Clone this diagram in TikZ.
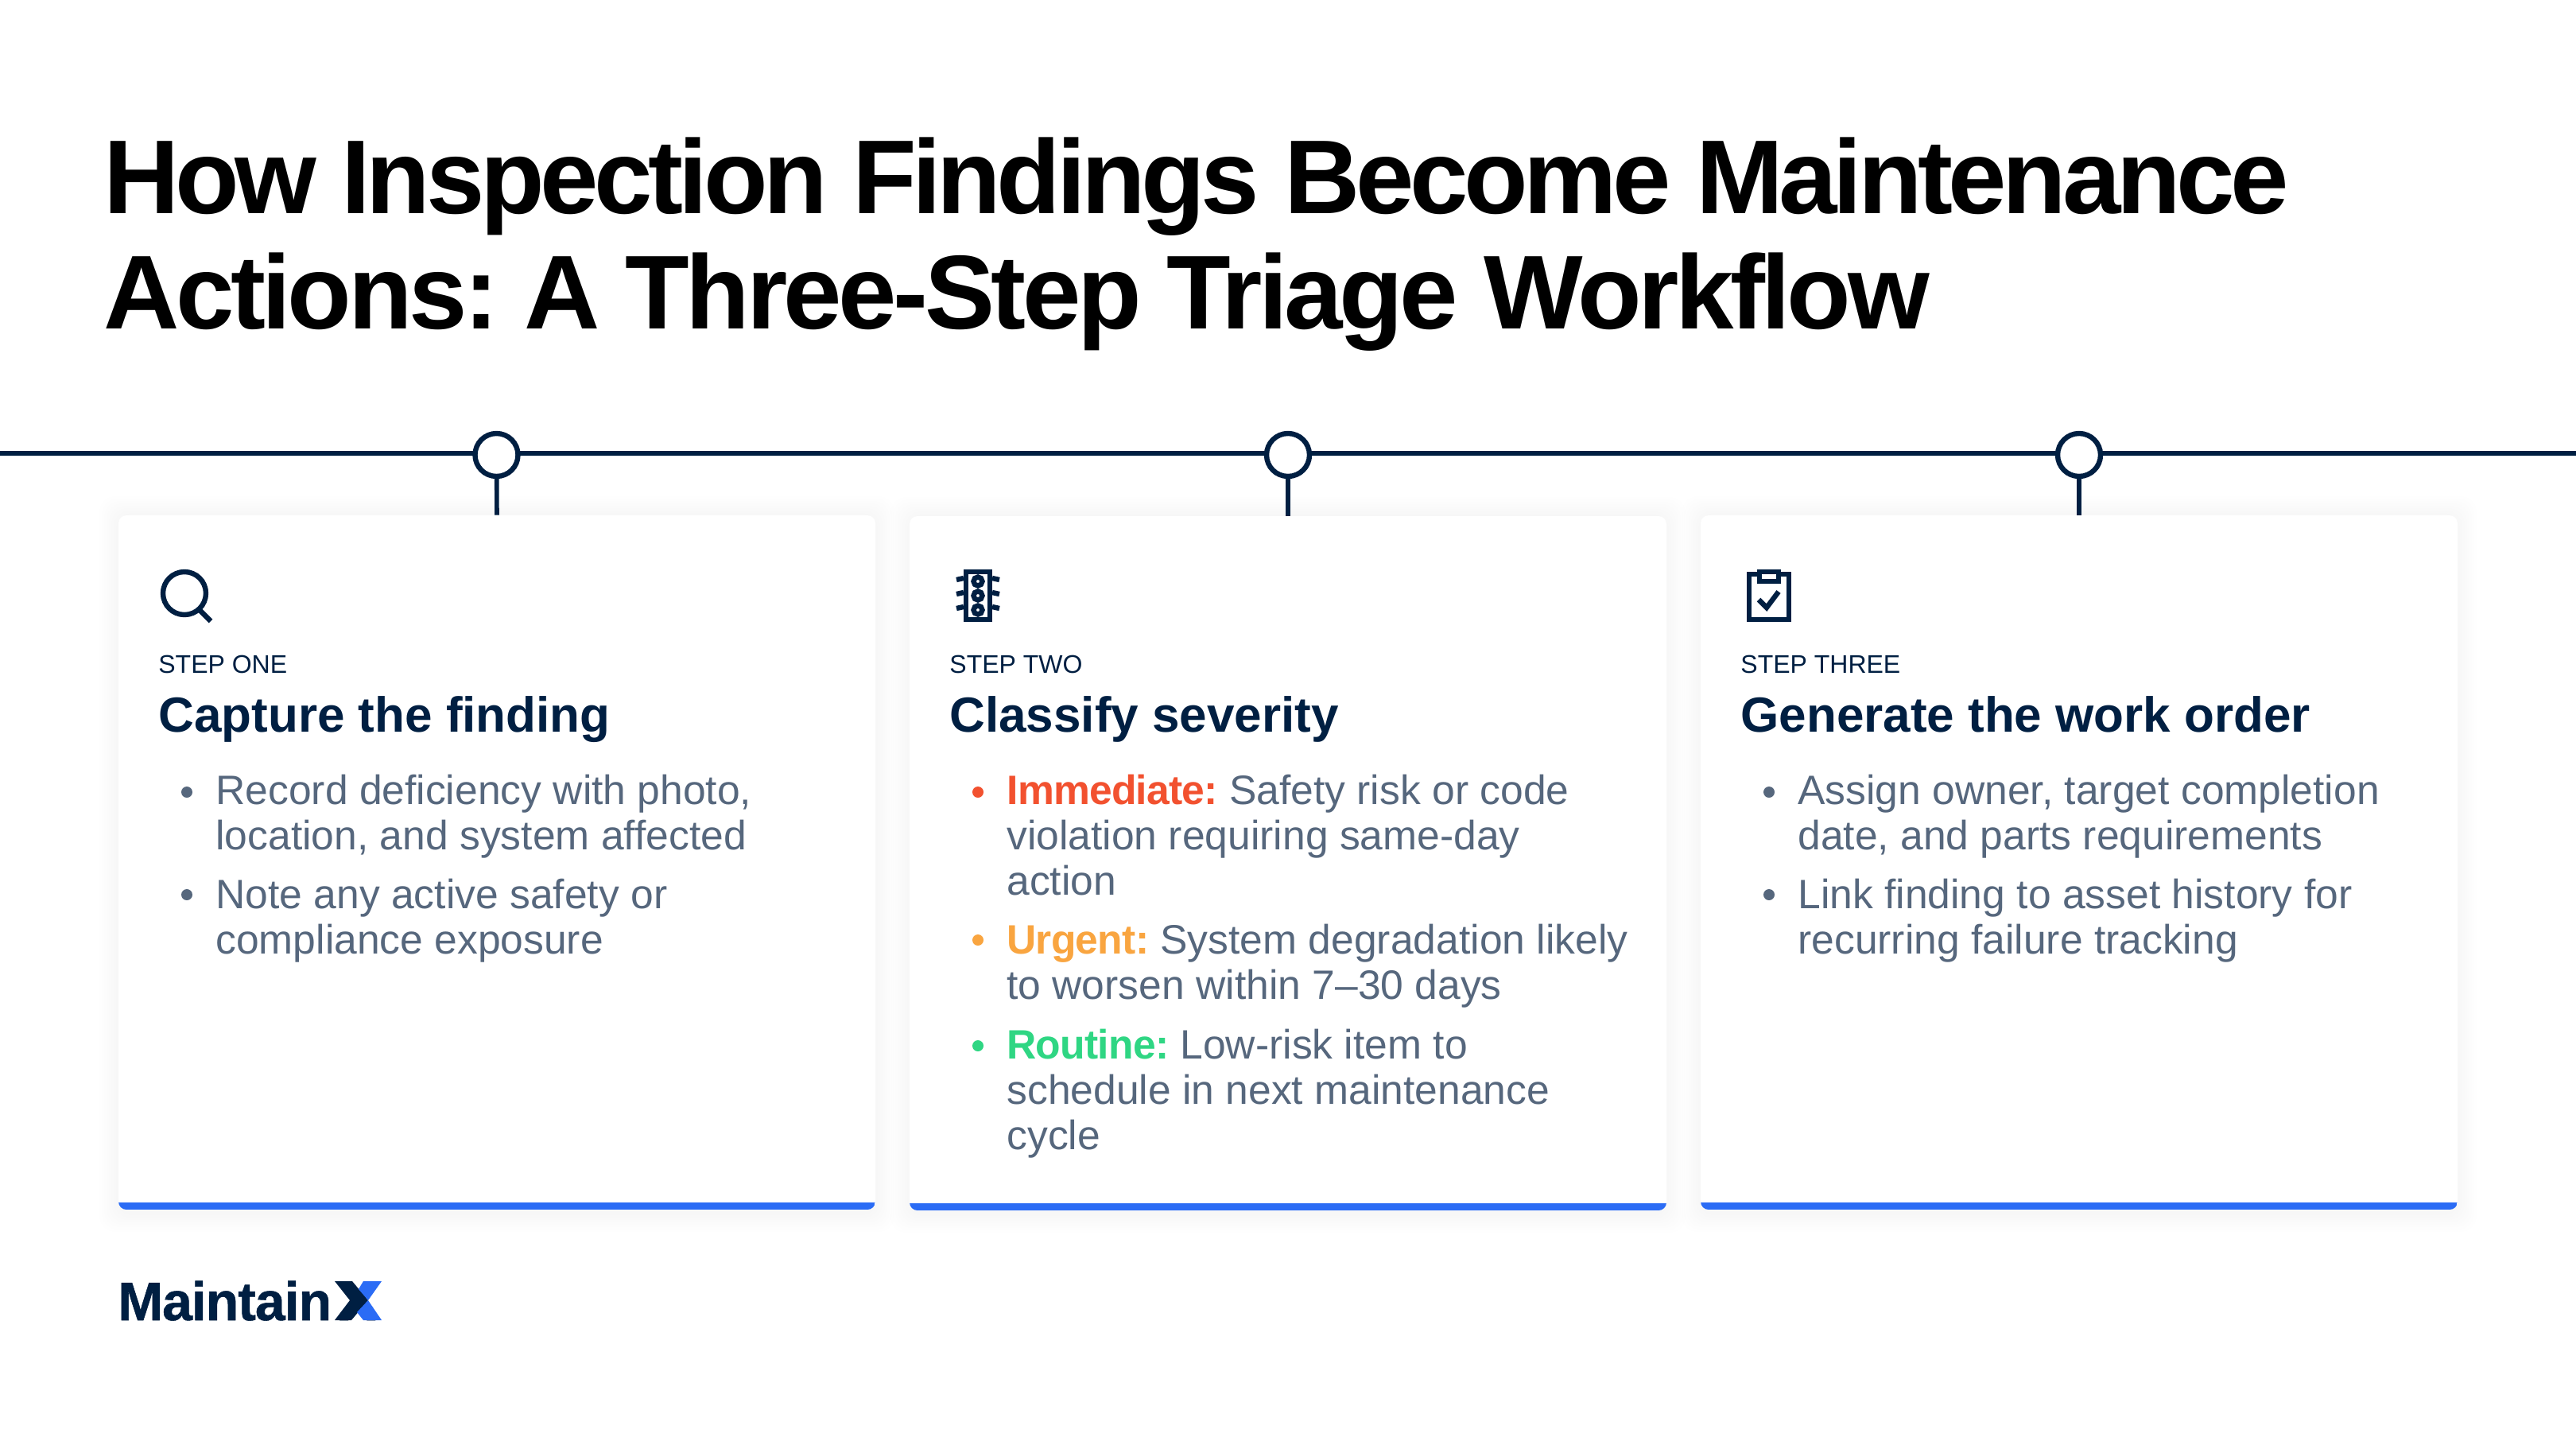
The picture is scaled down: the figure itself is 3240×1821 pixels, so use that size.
\documentclass[tikz,border=0pt]{standalone}
\usepackage{fontspec}
\setmainfont{Liberation Sans}
\newfontfamily\titlefont[LetterSpace=-3.4]{Liberation Sans}
\newfontfamily\titlefontwide[LetterSpace=-4.1]{Liberation Sans}
\newfontfamily\labelfont[LetterSpace=-1.5]{Liberation Sans}
\newfontfamily\logofont[LetterSpace=-1.5,FakeBold=0.8]{Liberation Sans}
\usetikzlibrary{positioning}
\definecolor{navy}{HTML}{001F42}
\definecolor{markblue}{HTML}{2B6CF5}
\definecolor{bodygray}{HTML}{56677D}
\definecolor{sevred}{HTML}{F2512F}
\definecolor{sevorange}{HTML}{F9A540}
\definecolor{sevgreen}{HTML}{2FD683}
\newcommand{\sevlabel}[2]{\textcolor{#1}{\labelfont\bfseries #2}}
\tikzset{
  x=0.5pt,y=-0.5pt,
  titletext/.style={anchor=base west,inner sep=0pt,text=black,font=\fontsize{66}{72}\selectfont\titlefont\bfseries},
  steptext/.style={anchor=base west,inner sep=0pt,text=navy,font=\fontsize{16}{18}\selectfont},
  headtext/.style={anchor=base west,inner sep=0pt,text=navy,font=\fontsize{31}{34}\selectfont\bfseries},
  bodytext/.style={anchor=north west,inner sep=0pt,align=left,text=bodygray,font=\fontsize{25.8}{28.5}\selectfont,execute at begin node=\strut},
  stepdot/.style={circle,draw=navy,line width=3.2pt,fill=white,minimum size=27pt,inner sep=0pt},
  cardbox/.style={rectangle,rounded corners=5pt,fill=white,minimum width=476pt,minimum height=436.5pt,inner sep=0pt},
  iconline/.style={draw=navy,line width=3.2pt},
}
\begin{document}
\frenchspacing
\begin{tikzpicture}
  \useasboundingbox (0,0) rectangle (3240,1821);
  \fill[white] (0,0) rectangle (3240,1821);

  \node[titletext,font=\fontsize{66}{72}\selectfont\titlefontwide\bfseries] (titleone) at (130,268) {How Inspection Findings Become Maintenance};
  \node[titletext] (titletwo) at (130,413) {Actions: A Three-Step Triage Workflow};

  % cards with a soft shadow
  \foreach \cname/\cx/\cy in {one/625/1084.5,two/1620/1085.5,three/2615/1084.5}{
    \foreach \s in {3,6,...,24}
      \fill[black,opacity=0.005,rounded corners=10pt] (\cx-476-\s,\cy-436.5-\s) rectangle (\cx+476+\s,\cy+436.5+\s+4);
    \node[cardbox] (card\cname) at (\cx,\cy) {};
    \begin{scope}
      \clip[rounded corners=5pt] (\cx-476,\cy-436.5) rectangle (\cx+476,\cy+436.5);
      \fill[markblue] (\cx-476,\cy+427.5) rectangle (\cx+476,\cy+436.5);
    \end{scope}
  }

  % timeline
  \coordinate (lineleft) at (0,570);
  \coordinate (lineright) at (3240,570);
  \draw[navy,line width=3.2pt] (lineleft)--(lineright);
  \node[stepdot] (dotone) at (624.5,572) {};
  \node[stepdot] (dottwo) at (1620,572) {};
  \node[stepdot] (dotthree) at (2615,572) {};
  \draw[navy,line width=2.8pt] (dotone)--(cardone.north);
  \draw[navy,line width=2.8pt] (dottwo)--(cardtwo.north);
  \draw[navy,line width=2.8pt] (dotthree)--(cardthree.north);

  % magnifier
  \draw[iconline] (232,746) circle (27);
  \draw[iconline] (251,767)--(265,781);

  % traffic light
  \draw[iconline] (1215,719) rectangle (1245,779);
  \foreach \ly in {731,749,767}{
    \draw[navy,line width=3.2pt] (1230,\ly) circle (5.5);
    \draw[iconline] (1212,\ly-4)--(1203,\ly-2);
    \draw[iconline] (1248,\ly-4)--(1257,\ly-2);
  }

  % clipboard
  \draw[iconline] (2200,722) rectangle (2250,779);
  \draw[iconline,fill=white] (2213,719) rectangle (2237,731);
  \draw[iconline] (2212,754)--(2222,764)--(2237,744);

  % first card
  \node[steptext] (stepone) at (199,846) {STEP ONE};
  \node[headtext] (headone) at (199,920) {Capture the finding};
  \fill[bodygray] (235,996) circle (7);
  \node[bodytext] (itemonea) at (271,973.5) {Record deficiency with photo,\\location, and system affected};
  \fill[bodygray] (235,1125) circle (7);
  \node[bodytext] (itemoneb) at (271,1105) {Note any active safety or\\compliance exposure};

  % second card
  \node[steptext] (steptwo) at (1194,846) {STEP TWO};
  \node[headtext] (headtwo) at (1194,920) {Classify severity};
  \fill[sevred] (1230,996) circle (7);
  \node[bodytext] (itemtwoa) at (1266,973.5) {\sevlabel{sevred}{Immediate:} Safety risk or code\\violation requiring same-day\\action};
  \fill[sevorange] (1230,1182) circle (7);
  \node[bodytext] (itemtwob) at (1266,1162) {\sevlabel{sevorange}{Urgent:} System degradation likely\\to worsen within 7–30 days};
  \fill[sevgreen] (1230,1315) circle (7);
  \node[bodytext] (itemtwoc) at (1266,1293.5) {\sevlabel{sevgreen}{Routine:} Low-risk item to\\schedule in next maintenance\\cycle};

  % third card
  \node[steptext] (stepthree) at (2189,846) {STEP THREE};
  \node[headtext] (headthree) at (2189,920) {Generate the work order};
  \fill[bodygray] (2225,996) circle (7);
  \node[bodytext] (itemthreea) at (2261,973.5) {Assign owner, target completion\\date, and parts requirements};
  \fill[bodygray] (2225,1125) circle (7);
  \node[bodytext] (itemthreeb) at (2261,1105) {Link finding to asset history for\\recurring failure tracking};

  % logo
  \node[anchor=base west,inner sep=0pt,text=navy,font=\fontsize{34}{36}\selectfont\logofont\bfseries] (logo) at (148,1660) {Maintain\hspace{5pt}X};
  \fill[navy] (421,1611)--(443,1611)--(463,1635)--(442,1660)--(421,1660)--(440,1635)--cycle;
  \fill[markblue] (457,1611)--(480,1611)--(463,1635)--(451,1621)--cycle;
  \fill[markblue] (463,1635)--(480,1660)--(457,1660)--(449,1650)--cycle;
\end{tikzpicture}
\end{document}
